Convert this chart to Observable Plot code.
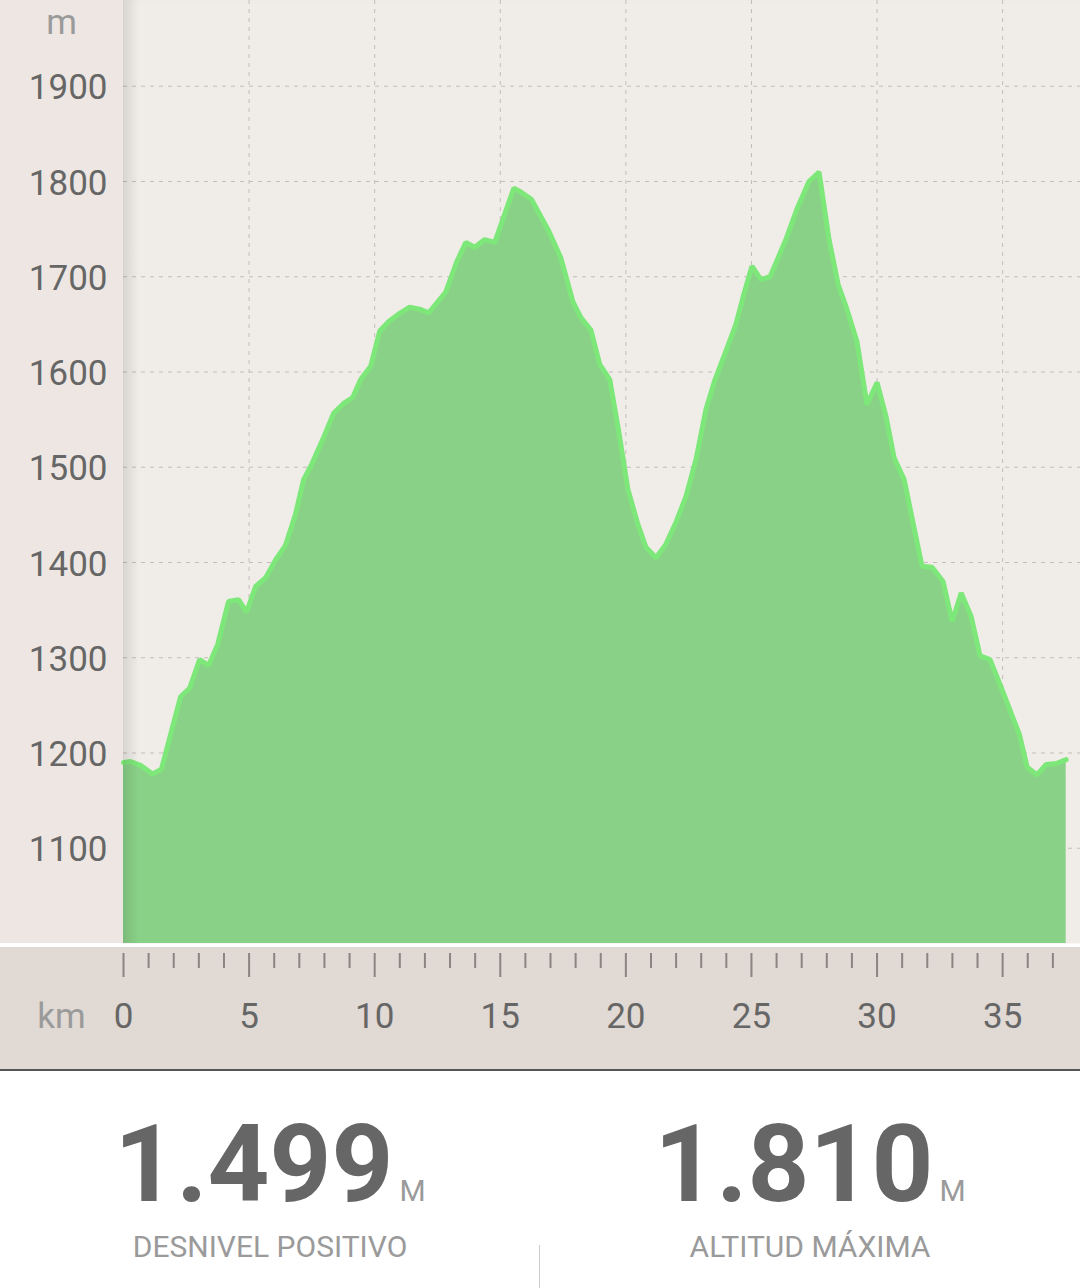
<!DOCTYPE html>
<html>
<head>
<meta charset="utf-8">
<script src="https://cdn.jsdelivr.net/npm/d3@7"></script>
<script src="https://cdn.jsdelivr.net/npm/@observablehq/plot@0.6"></script>
<style>
  html, body { margin: 0; padding: 0; background: #ffffff; }
  body { width: 1080px; height: 1288px; position: relative; overflow: hidden; font-family: Roboto, "Noto Sans", sans-serif; }
  #chart { position: absolute; left: 0; top: 0; }
  #shadow { position: absolute; left: 123px; top: 0; width: 16px; height: 943px;
            background: linear-gradient(to right, rgba(0,0,0,0.10), rgba(0,0,0,0)); pointer-events: none; }
  .stat { position: absolute; top: 1070px; width: 540px; height: 218px; }
  .num { position: absolute; left: 0; width: 540px; top: 40px; text-align: center; line-height: 1; white-space: nowrap; }
  .num .v { font-size: 108px; font-weight: 700; color: #666666; }
  .num .u { font-size: 30px; color: #9a9a9a; margin-left: 6px; }
  .lab { position: absolute; left: 0; width: 540px; top: 162px; text-align: center; font-size: 30px; line-height: 1; color: #9a9a9a; }
  #divider { position: absolute; left: 539px; top: 1245px; width: 1px; height: 43px; background: #cccccc; }
</style>
</head>
<body>
<div id="chart"></div>
<div id="shadow"></div>
<div id="divider"></div>
<script>
// distance along the route (km)
const km = [0, 0.28, 0.68, 1.16, 1.51, 2.27, 2.63, 3.03, 3.39, 3.75, 4.18, 4.58, 4.90, 5.26, 5.66, 6.06, 6.45, 6.85, 7.17, 7.49,
  7.93, 8.37, 8.76, 9.12, 9.44, 9.84, 10.20, 10.56, 10.96, 11.39, 11.79, 12.15, 12.83, 13.27, 13.63, 13.98, 14.38, 14.78, 15.54, 15.82,
  16.25, 16.93, 17.41, 17.89, 18.21, 18.61, 18.96, 19.36, 19.72, 20.08, 20.48, 20.80, 21.20, 21.59, 21.99, 22.39, 22.79, 23.19, 23.55, 23.94,
  24.38, 24.70, 25.02, 25.38, 25.74, 26.37, 26.81, 27.29, 27.69, 28.09, 28.45, 28.80, 29.20, 29.60, 30.00, 30.36, 30.68, 31.08, 31.79, 32.19,
  32.63, 32.99, 33.35, 33.75, 34.10, 34.50, 34.94, 35.66, 35.98, 36.37, 36.73, 37.13, 37.53];
// elevation (m)
const elevation = [1190, 1191, 1187, 1178, 1183, 1259, 1268, 1298, 1292, 1314, 1359, 1361, 1348, 1375, 1384, 1403, 1418, 1451, 1487, 1503,
  1529, 1557, 1567, 1573, 1592, 1606, 1643, 1653, 1661, 1668, 1666, 1662, 1684, 1716, 1736, 1731, 1739, 1736, 1793, 1789,
  1781, 1748, 1720, 1674, 1657, 1644, 1608, 1592, 1537, 1477, 1440, 1416, 1405, 1419, 1442, 1469, 1508, 1561, 1592, 1619,
  1650, 1682, 1711, 1697, 1700, 1739, 1771, 1800, 1810, 1739, 1692, 1666, 1632, 1566, 1589, 1553, 1510, 1487, 1396, 1395,
  1380, 1338, 1368, 1343, 1302, 1298, 1269, 1220, 1185, 1177, 1188, 1189, 1193];

const yTicks = [1100, 1200, 1300, 1400, 1500, 1600, 1700, 1800, 1900];
const xMajorTicks = [0, 5, 10, 15, 20, 25, 30, 35];
const xMinorTicks = [1, 2, 3, 4, 6, 7, 8, 9, 11, 12, 13, 14, 16, 17, 18, 19, 21, 22, 23, 24, 26, 27, 28, 29, 31, 32, 33, 34, 36, 37];
const xGridTicks = [5, 10, 15, 20, 25, 30, 35];
const yUnit = "m";
const xUnit = "km";
const stats = [
  {value: "1.499", unit: "M", label: "DESNIVEL POSITIVO"},
  {value: "1.810", unit: "M", label: "ALTITUD MÁXIMA"}
];

const data = km.map((d, i) => ({km: d, m: elevation[i]}));

const chart = Plot.plot({
  width: 1080,
  height: 1071,
  marginLeft: 123,
  marginRight: 0,
  marginTop: 0,
  marginBottom: 128,
  style: {
    fontFamily: "Roboto, 'Noto Sans', sans-serif",
    background: "linear-gradient(to bottom, #ede6e2 0px, #ede6e2 943px, #ffffff 943px, #ffffff 947px, #e0d9d4 947px, #e0d9d4 1069px, #555555 1069px, #555555 1071px)"
  },
  x: {domain: [0, 38.1]},
  y: {domain: [1000, 1990]},
  marks: [
    Plot.frame({fill: "#f0ede9", stroke: null}),
    Plot.gridY(yTicks, {stroke: "#c2bdb8", strokeOpacity: 1, strokeDasharray: "4,5", strokeWidth: 1}),
    Plot.gridX(xGridTicks, {stroke: "#c2bdb8", strokeOpacity: 1, strokeDasharray: "4,5", strokeWidth: 1}),
    Plot.areaY(data, {x: "km", y1: () => 1000, y2: "m", fill: "#8ad188", fillOpacity: 1}),
    Plot.lineY(data, {x: "km", y: "m", stroke: "#7de879", strokeWidth: 5, strokeLinejoin: "miter"}),
    Plot.axisY(yTicks, {tickSize: 0, tickPadding: 16, dy: 2, fontSize: 35, fill: "#666666", label: null, tickFormat: d => String(d)}),
    Plot.axisX(xMajorTicks, {tickSize: 24, dy: 10, stroke: "#8a8581", strokeWidth: 2, text: null, label: null}),
    Plot.axisX(xMinorTicks, {tickSize: 15, dy: 10, stroke: "#8a8581", strokeWidth: 2, text: null, label: null}),
    Plot.axisX(xMajorTicks, {tickSize: 0, tickPadding: 60, fontSize: 35, fill: "#666666", label: null, tickFormat: d => String(d)}),
    Plot.text([yUnit], {frameAnchor: "top-left", dx: -62, dy: 22, text: d => d, fontSize: 35, fill: "#9a9a9a", textAnchor: "middle", lineAnchor: "middle"}),
    Plot.text([xUnit], {frameAnchor: "bottom-left", dx: -62, dy: 60, text: d => d, fontSize: 35, fill: "#9a9a9a", textAnchor: "middle", lineAnchor: "top"})
  ]
});
document.getElementById("chart").appendChild(chart);

stats.forEach((s, i) => {
  const div = document.createElement("div");
  div.className = "stat";
  div.style.left = (i * 540) + "px";
  div.innerHTML = `<div class="num"><span class="v">${s.value}</span><span class="u">${s.unit}</span></div><div class="lab">${s.label}</div>`;
  document.body.appendChild(div);
});
</script>
</body>
</html>
